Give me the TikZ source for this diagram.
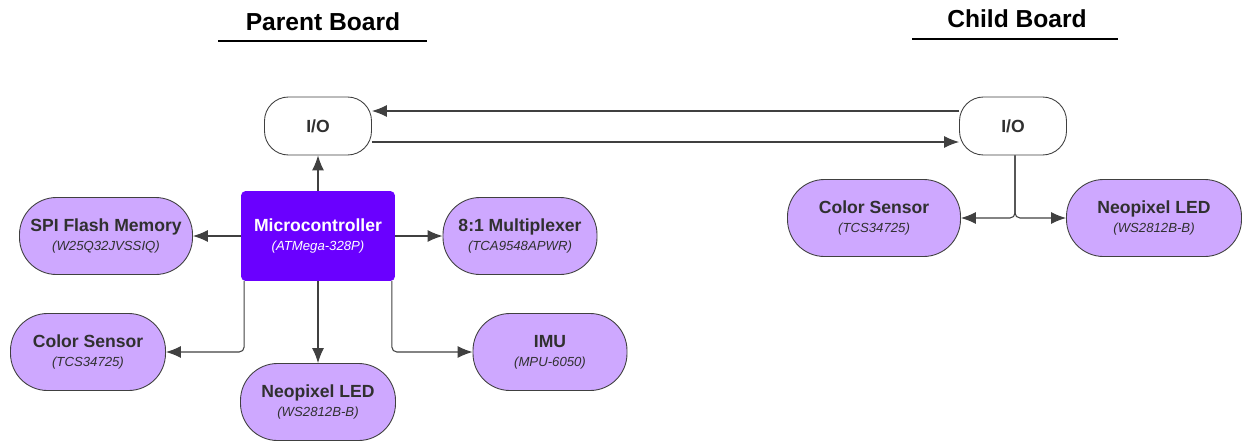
\documentclass[tikz,border=0pt]{standalone}
\usepackage{fontspec}
\setmainfont{Liberation Sans}
\usetikzlibrary{arrows.meta}

\definecolor{lilac}{RGB}{206,168,255}
\definecolor{mcuviolet}{RGB}{106,0,255}
\definecolor{linegray}{RGB}{64,64,64}
\definecolor{textgray}{RGB}{48,48,48}

\newcommand{\chipname}[2]{\textbf{#1}\\[-1pt]{\fontsize{7.5}{9}\selectfont\itshape #2}}

\tikzset{
  pill/.style={draw=linegray, fill=lilac, text=textgray, line width=0.5pt,
    rounded corners=7.4mm, minimum width=31mm, minimum height=15.4mm,
    inner sep=0pt, align=center, font=\fontsize{10}{12}\selectfont},
  port/.style={draw=linegray, fill=white, text=textgray, line width=0.5pt,
    rounded corners=4.8mm, minimum width=21.4mm, minimum height=11.6mm,
    inner sep=0pt, font=\fontsize{10}{12}\selectfont\bfseries},
  link/.style={draw=linegray, line width=0.6pt, rounded corners=1mm,
    -{Latex[length=3mm,width=2.4mm]}},
  heading/.style={font=\fontsize{14}{16}\selectfont\bfseries, inner sep=0pt}
}

\begin{document}
\begin{tikzpicture}[x=0.2mm,y=-0.2mm]
    \useasboundingbox (0,0) rectangle (1243,442);

    %Titles
    \node[heading] (ParentTitle) at (323,22) {Parent Board};
    \draw[line width=0.8pt] (218,41) -- (427,41);
    \node[heading] (ChildTitle) at (1017,19) {Child Board};
    \draw[line width=0.8pt] (912,39) -- (1118,39);

    %Parent board
    \node[port] (ParentIO) at (318,126) {I/O};
    \node[draw=mcuviolet, fill=mcuviolet, text=white, rounded corners=0.8mm,
      minimum width=30.6mm, minimum height=17.8mm, inner sep=0pt, align=center,
      font=\fontsize{10}{12}\selectfont] (Micro) at (318,236)
      {\chipname{Microcontroller}{(ATMega-328P)}};
    \node[pill, minimum width=34.6mm] (Flash) at (106,236)
      {\chipname{SPI Flash Memory}{(W25Q32JVSSIQ)}};
    \node[pill, minimum width=30.8mm] (Mux) at (520,236)
      {\chipname{8:1 Multiplexer}{(TCA9548APWR)}};
    \node[pill] (ParentColor) at (88,352)
      {\chipname{Color Sensor}{(TCS34725)}};
    \node[pill] (ParentLED) at (318,402)
      {\chipname{Neopixel LED}{(WS2812B-B)}};
    \node[pill, minimum width=30.8mm] (IMU) at (550,352)
      {\chipname{IMU}{(MPU-6050)}};

    \draw[link] (Micro.north) -- (ParentIO.south);
    \draw[link] (Micro.west) -- (Flash.east);
    \draw[link] (Micro.east) -- (Mux.west);
    \draw[link] (Micro.south) -- (ParentLED.north);
    \draw[link] ([xshift=0.6mm]Micro.south west) |- (ParentColor.east);
    \draw[link] ([xshift=-0.6mm]Micro.south east) |- (IMU.west);

    %Child board
    \node[port] (ChildIO) at (1013,126) {I/O};
    \node[pill, minimum width=34.6mm] (ChildColor) at (874,218)
      {\chipname{Color Sensor}{(TCS34725)}};
    \node[pill, minimum width=35mm] (ChildLED) at (1154,218)
      {\chipname{Neopixel LED}{(WS2812B-B)}};

    \draw[link] ([xshift=0.4mm]ChildIO.south) |- (ChildColor.east);
    \draw[link] ([xshift=0.4mm]ChildIO.south) |- (ChildLED.west);

    %Board to board
    \draw[link] ([yshift=3mm]ChildIO.west) -- ([yshift=3mm]ParentIO.east);
    \draw[link] ([yshift=-3.2mm]ParentIO.east) -- ([yshift=-3.2mm]ChildIO.west);
  \end{tikzpicture}
\end{document}
